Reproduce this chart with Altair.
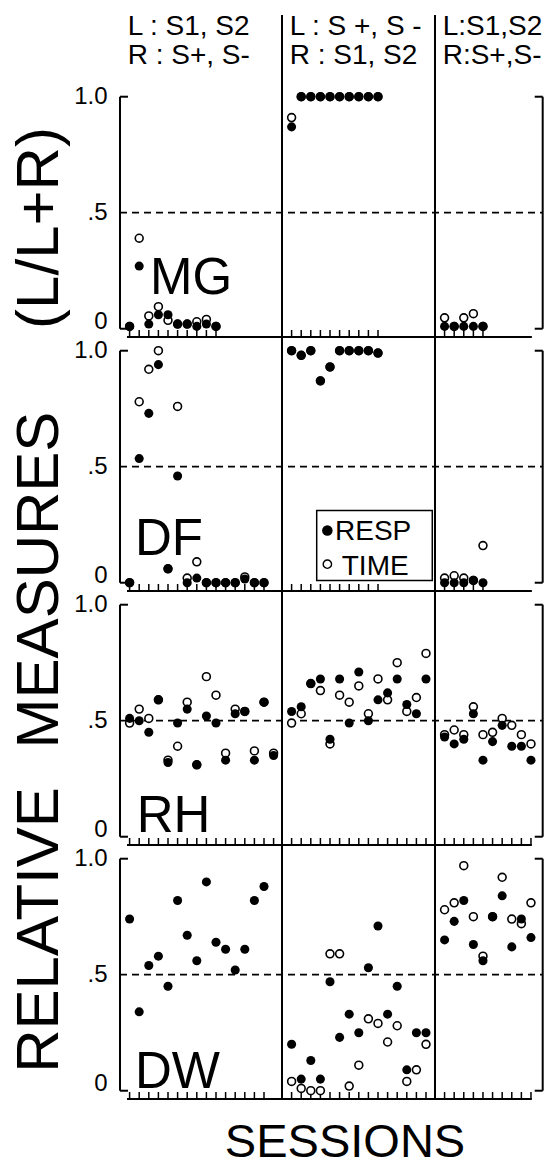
import altair as alt
import pandas as pd

# ---------------- data ----------------
ROWS = ["MG", "DF", "RH", "DW"]
HEAD_TOP = ["L : S1, S2", "L : S +, S -", "L:S1,S2"]
HEAD_BOTTOM = ["R : S+, S-", "R : S1, S2", "R:S+,S-"]
Y_TICK_VALUES = [1.0, 0.5, 0.0]
Y_TICK_TEXT = ["1.0", ".5", "0"]
Y_TITLE_WORDS = ["(L/L+R)", "MEASURES", "RELATIVE"]
X_TITLE = "SESSIONS"
LEGEND_LABELS = ["RESP", "TIME"]

MG_RESP = [
    [0.01, 0.27, 0.02, 0.06, 0.06, 0.02, 0.02, 0.01, 0.02, 0.01],
    [0.87, 1.0, 1.0, 1.0, 1.0, 1.0, 1.0, 1.0, 1.0, 1.0],
    [0.01, 0.01, 0.01, 0.01, 0.01],
]
MG_TIME = [
    [0.01, 0.39, 0.055, 0.095, 0.036, 0.02, 0.02, 0.03, 0.04, 0.01],
    [0.91, 1.0, 1.0, 1.0, 1.0, 1.0, 1.0, 1.0, 1.0, 1.0],
    [0.047, 0.01, 0.047, 0.065, 0.01],
]
DF_RESP = [
    [0.0, 0.535, 0.73, 0.94, 0.06, 0.46, 0.0, 0.02, 0.0, 0.0, 0.0, 0.0, 0.016, 0.0, 0.0],
    [1.0, 0.98, 1.0, 0.87, 0.93, 1.0, 1.0, 1.0, 1.0, 0.99],
    [0.0, 0.0, 0.0, 0.01, 0.0],
]
DF_TIME = [
    [0.0, 0.78, 0.92, 1.0, 0.06, 0.76, 0.02, 0.09, 0.0, 0.0, 0.0, 0.0, 0.025, 0.0, 0.0],
    [1.0, 0.98, 1.0, 0.87, 0.93, 1.0, 1.0, 1.0, 1.0, 0.99],
    [0.02, 0.03, 0.02, 0.01, 0.16],
]
RH_RESP = [
    [0.51, 0.50, 0.45, 0.59, 0.32, 0.49, 0.55, 0.31, 0.52, 0.49, 0.33, 0.53, 0.54, 0.33, 0.58, 0.35],
    [0.54, 0.56, 0.66, 0.68, 0.42, 0.68, 0.49, 0.71, 0.50, 0.59, 0.62, 0.68, 0.57, 0.53, 0.68],
    [0.43, 0.40, 0.42, 0.53, 0.33, 0.41, 0.48, 0.39, 0.39, 0.33],
]
RH_TIME = [
    [0.49, 0.55, 0.51, 0.59, 0.33, 0.39, 0.58, 0.31, 0.69, 0.61, 0.36, 0.55, 0.54, 0.37, 0.58, 0.36],
    [0.49, 0.53, 0.66, 0.63, 0.40, 0.61, 0.58, 0.65, 0.53, 0.68, 0.59, 0.75, 0.54, 0.60, 0.79],
    [0.44, 0.46, 0.44, 0.56, 0.44, 0.45, 0.51, 0.48, 0.44, 0.40],
]
DW_RESP = [
    [0.74, 0.34, 0.54, 0.58, 0.45, 0.82, 0.67, 0.56, 0.90, 0.64, 0.61, 0.52, 0.61, 0.82, 0.88],
    [0.20, 0.05, 0.13, 0.05, 0.47, 0.23, 0.33, 0.25, 0.53, 0.71, 0.33, 0.45, 0.09, 0.25, 0.25],
    [0.65, 0.73, 0.82, 0.63, 0.56, 0.75, 0.84, 0.62, 0.74, 0.66],
]
DW_TIME = [
    None,
    [0.04, 0.01, 0.00, 0.00, 0.59, 0.59, 0.02, 0.11, 0.31, 0.29, 0.21, 0.28, 0.04, 0.09, 0.20],
    [0.78, 0.81, 0.97, 0.75, 0.58, 0.75, 0.92, 0.74, 0.72, 0.81],
]

RESP = {"MG": MG_RESP, "DF": DF_RESP, "RH": RH_RESP, "DW": DW_RESP}
TIME = {"MG": MG_TIME, "DF": DF_TIME, "RH": RH_TIME, "DW": DW_TIME}

# ---------------- layout ----------------
FONT = "Liberation Sans"
UNIT = 9.6            # px per session step
TITLE_W = 90
BODY_W = 468
HEADER_H = 84
ROW_H = 254
FOOTER_H = 66
TOTAL_H = HEADER_H + 4 * ROW_H + FOOTER_H
X0_PX = 120
X_DOM = [-(X0_PX - TITLE_W) / UNIT, (558 - X0_PX) / UNIT]
Y_DOM = [-0.04, 1.0548]
PXV = ROW_H / (Y_DOM[1] - Y_DOM[0])   # px per unit value
COL_START = [0.0, 16.875, 32.81]
RIGHT = 44.03
BR = 0.83
ROW_LABEL_POS = {"MG": (3.125, 0.15), "DF": (1.56, 0.12), "RH": (1.74, 0.02), "DW": (1.56, 0.01)}


def xs():
    return alt.Scale(domain=X_DOM, nice=False, zero=False)


def ys():
    return alt.Scale(domain=Y_DOM, nice=False, zero=False)


def seg_layer(df, **mark):
    return alt.Chart(df).mark_rule(**mark).encode(
        x=alt.X("x:Q", scale=xs(), axis=None), x2="x2:Q",
        y=alt.Y("y:Q", scale=ys(), axis=None), y2="y2:Q")


def text_layer(df, scale_y, **mark):
    return alt.Chart(df).mark_text(font=FONT, color="black", **mark).encode(
        x=alt.X("x:Q", scale=xs(), axis=None),
        y=alt.Y("y:Q", scale=scale_y, axis=None),
        text="text:N")


# points table
recs = []
for r in ROWS:
    for c in range(3):
        for k, v in enumerate(RESP[r][c], start=1):
            recs.append(dict(row=r, col=c, k=k, x=COL_START[c] + k, measure="RESP", value=v))
        if TIME[r][c] is not None:
            for k, v in enumerate(TIME[r][c], start=1):
                recs.append(dict(row=r, col=c, k=k, x=COL_START[c] + k, measure="TIME", value=v))
points = pd.DataFrame(recs)


def row_chart(r):
    solid = [
        (COL_START[1], COL_START[1], Y_DOM[0], Y_DOM[1]),
        (COL_START[2], COL_START[2], Y_DOM[0], Y_DOM[1]),
        (0, 0, 0, 1), (0, BR, 1, 1), (0, BR, 0, 0),
        (RIGHT, RIGHT, 0, 1), (RIGHT - BR, RIGHT, 1, 1), (RIGHT - BR, RIGHT, 0, 0),
    ]
    bottom = Y_DOM[0] + 1.0 / PXV
    solid.append((0.73, 42.9, bottom, bottom))
    frame = pd.DataFrame(solid, columns=["x", "x2", "y", "y2"])
    ticks = pd.DataFrame(
        [(COL_START[c] + k, COL_START[c] + k, bottom, bottom + 7.0 / PXV)
         for c in range(3) for k in range(1, len(RESP[r][c]) + 1)],
        columns=["x", "x2", "y", "y2"])
    dashed = pd.DataFrame([(0, RIGHT, 0.5, 0.5)], columns=["x", "x2", "y", "y2"])
    ylab = pd.DataFrame({"x": [-1.3] * 3,
                         "y": [v + (0.03 if v == 0 else 0) for v in Y_TICK_VALUES],
                         "text": Y_TICK_TEXT})
    lx, ly = ROW_LABEL_POS[r]
    rlab = pd.DataFrame({"x": [lx], "y": [ly], "text": [r]})
    pr = points[points.row == r]

    layers = [
        seg_layer(frame, color="black", strokeWidth=2),
        seg_layer(ticks, color="black", strokeWidth=1.5),
        seg_layer(dashed, color="black", strokeWidth=1.8, strokeDash=[7, 5]),
        text_layer(ylab, ys(), align="right", baseline="middle", fontSize=24),
        text_layer(rlab, ys(), align="left", baseline="alphabetic", fontSize=51),
        alt.Chart(pr[pr.measure == "TIME"]).mark_circle(
            size=62, fill="white", stroke="black", strokeWidth=1.6, opacity=1).encode(
            x=alt.X("x:Q", scale=xs(), axis=None),
            y=alt.Y("value:Q", scale=ys(), axis=None)),
        alt.Chart(pr[pr.measure == "RESP"]).mark_circle(
            size=82, color="black", opacity=1).encode(
            x=alt.X("x:Q", scale=xs(), axis=None),
            y=alt.Y("value:Q", scale=ys(), axis=None)),
    ]
    if r == "DF":
        box = pd.DataFrame([(20.49, 32.53, 0.01, 0.311)], columns=["x", "x2", "y", "y2"])
        layers.append(alt.Chart(box).mark_rect(fill="white", stroke="black", strokeWidth=1.5).encode(
            x=alt.X("x:Q", scale=xs(), axis=None), x2="x2:Q",
            y=alt.Y("y:Q", scale=ys(), axis=None), y2="y2:Q"))
        layers.append(alt.Chart(pd.DataFrame({"x": [21.6], "y": [0.225]})).mark_circle(
            size=110, color="black", opacity=1).encode(
            x=alt.X("x:Q", scale=xs(), axis=None), y=alt.Y("y:Q", scale=ys(), axis=None)))
        layers.append(alt.Chart(pd.DataFrame({"x": [21.6], "y": [0.08]})).mark_circle(
            size=70, fill="white", stroke="black", strokeWidth=1.4, opacity=1).encode(
            x=alt.X("x:Q", scale=xs(), axis=None), y=alt.Y("y:Q", scale=ys(), axis=None)))
        leg = pd.DataFrame({"x": [22.4, 23.1], "y": [0.182, 0.035], "text": LEGEND_LABELS})
        layers.append(text_layer(leg, ys(), align="left", baseline="alphabetic", fontSize=28))
    return alt.layer(*layers).properties(width=BODY_W, height=ROW_H)


# header
hy = alt.Scale(domain=[0, HEADER_H], reverse=True, nice=False, zero=False)
hdr_text = pd.DataFrame({
    "x": [COL_START[c] + 0.8 for c in range(3) for _ in range(2)],
    "y": [35, 64] * 3,
    "text": [t for c in range(3) for t in (HEAD_TOP[c], HEAD_BOTTOM[c])],
})
hdr_rules = pd.DataFrame([(COL_START[1], 15, HEADER_H), (COL_START[2], 15, HEADER_H)],
                         columns=["x", "y", "y2"])
header = alt.layer(
    alt.Chart(hdr_rules).mark_rule(color="black", strokeWidth=2).encode(
        x=alt.X("x:Q", scale=xs(), axis=None),
        y=alt.Y("y:Q", scale=hy, axis=None), y2="y2:Q"),
    text_layer(hdr_text, hy, align="left", baseline="alphabetic", fontSize=28),
).properties(width=BODY_W, height=HEADER_H)

# footer
fy = alt.Scale(domain=[0, FOOTER_H], reverse=True, nice=False, zero=False)
footer = text_layer(pd.DataFrame({"x": [23.44], "y": [57], "text": [X_TITLE]}), fy,
                    align="center", baseline="alphabetic", fontSize=47
                    ).properties(width=BODY_W, height=FOOTER_H)

# y title
ty = alt.Scale(domain=[0, TOTAL_H], reverse=True, nice=False, zero=False)
tx = alt.Scale(domain=[0, TITLE_W], nice=False, zero=False)
title_df = pd.DataFrame({"x": [40, 40, 40], "y": [228, 580, 930], "text": Y_TITLE_WORDS})
title = alt.Chart(title_df).mark_text(font=FONT, fontSize=60, angle=270, align="center",
                                      baseline="middle", color="black").encode(
    x=alt.X("x:Q", scale=tx, axis=None),
    y=alt.Y("y:Q", scale=ty, axis=None),
    text="text:N").properties(width=TITLE_W, height=TOTAL_H)

body = alt.vconcat(header, *[row_chart(r) for r in ROWS], footer, spacing=0, bounds="flush")
chart = alt.hconcat(title, body, spacing=0, bounds="flush").properties(
    padding=0, background="white").configure_view(strokeWidth=0)

chart.save("out.html", embed_options={"renderer": "svg", "actions": False})
